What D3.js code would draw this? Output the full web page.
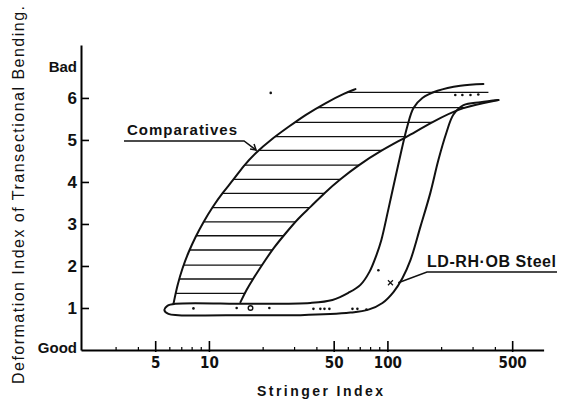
<!DOCTYPE html>
<html>
<head>
<meta charset="utf-8">
<script src="https://cdn.jsdelivr.net/npm/d3@7"></script>
<style>
  body { margin: 0; background: #fff; }
  svg { display: block; background: #fff; }
  text { fill: #111; font-family: "Liberation Sans", Arial, sans-serif; }
</style>
</head>
<body>
<svg width="561" height="399"></svg>
<script>
  // upper-left edge of the "Comparatives" band  [stringer index, deformation index]
  const compUpper = [[6.33,1.10],[6.66,1.55],[7.10,1.95],[7.68,2.33],[8.40,2.69],[9.32,3.05],
    [10.46,3.40],[11.90,3.74],[13.72,4.05],[15.61,4.38],[18.22,4.69],[22.11,5.00],[27.89,5.31],
    [34.72,5.60],[44.95,5.88],[58.18,6.12],[66.2,6.21]];
  // lower-right edge of the "Comparatives" band
  const compLower = [[15.02,1.14],[16.22,1.43],[17.53,1.67],[20.20,2.07],[22.98,2.43],[27.54,2.83],
    [31.72,3.14],[37.03,3.40],[44.38,3.74],[54.54,4.07],[68.80,4.40],[91.38,4.74],[127.8,5.07],
    [178.7,5.43],[263.1,5.79],[418.7,5.95]];
  // LD-RH-OB steel envelope, drawn as one stroke (left S-curve, round bottom, right S-curve)
  const steelBand = [[345,6.33],[256,6.29],[191,6.17],[157,6.00],[140,5.76],[129,5.31],[120,4.76],
    [111,4.12],[101,3.33],[92.5,2.62],[86.8,2.26],[79.3,1.86],[70.6,1.55],[60.4,1.36],[49.2,1.19],
    [37.0,1.12],[17.1,1.10],[6.49,1.10],[5.85,1.05],[5.63,0.95],[5.93,0.86],[6.75,0.83],[17.1,0.83],
    [32.6,0.83],[62.05,0.89],[78.3,0.96],[93.8,1.12],[108.1,1.38],[121.3,1.71],[134.6,2.14],
    [153,2.93],[174,3.74],[193,4.52],[214,5.17],[234,5.60],[267,5.83],[332,5.90],[419,5.95]];
  // hatching levels inside the comparatives band
  const hatchLevels = [6.13,5.77,5.42,5.08,4.75,4.40,4.06,3.73,3.39,3.05,2.72,2.38,2.02,1.69,1.35];

  // measured points
  const dotX = [8.19,14.3,21.8,38.5,42.1,44.4,47.3,63.7,67.9,76.3,89.0,22.2,240,263,292,323];
  const dotY = [0.99,1.00,1.00,0.98,0.98,0.98,0.98,0.98,0.98,0.96,1.90,6.12,6.07,6.07,6.07,6.08];
  const ringX = [17.1], ringY = [1.00];
  const crossPtX = [104], crossPtY = [1.60];

  const majorTicks = [5, 10, 50, 100, 500];
  const minorTicks = [3,4,6,7,8,9,20,30,40,60,70,80,90,200,300,400];
  const yTicks = [1,2,3,4,5,6];

  const svg = d3.select("svg");

  const x = d3.scaleLog().domain([1.92, 750]).range([81, 543.6]);
  const y = d3.scaleLinear().domain([0, 7.26]).range([350, 45]);

  // the two comparative edges are hand-smoothed in the original, so use a b-spline
  const smooth = d3.line()
    .x(d => x(d[0]))
    .y(d => y(d[1]))
    .curve(d3.curveBasis);
  const line = d3.line()
    .x(d => x(d[0]))
    .y(d => y(d[1]))
    .curve(d3.curveCatmullRom.alpha(0.5));

  // curves
  const gCurves = svg.append("g")
    .attr("fill", "none")
    .attr("stroke", "#111")
    .attr("stroke-width", 2)
    .attr("stroke-linecap", "round")
    .attr("stroke-linejoin", "round");

  const upperPath = gCurves.append("path").attr("d", smooth(compUpper));
  const lowerPath = gCurves.append("path").attr("d", smooth(compLower));
  gCurves.append("path").attr("d", line(steelBand));

  // find where a drawn path crosses a horizontal pixel line
  function crossX(node, py) {
    const total = node.getTotalLength();
    let prev = node.getPointAtLength(0);
    for (let s = 0.5; s <= total; s += 0.5) {
      const p = node.getPointAtLength(s);
      if ((prev.y - py) * (p.y - py) <= 0 && prev.y !== p.y) {
        return prev.x + (py - prev.y) / (p.y - prev.y) * (p.x - prev.x);
      }
      prev = p;
    }
    return null;
  }

  // hatching
  const lowerEnd = x(compLower[compLower.length - 1][0]) - 10;
  svg.append("g")
    .attr("stroke", "#111")
    .attr("stroke-width", 1.3)
    .selectAll("line")
    .data(hatchLevels)
    .join("line")
      .attr("x1", d => crossX(upperPath.node(), y(d)))
      .attr("x2", d => {
        const c = crossX(lowerPath.node(), y(d));
        return c === null ? lowerEnd : c;
      })
      .attr("y1", d => y(d))
      .attr("y2", d => y(d));

  // points
  svg.append("g").selectAll("circle")
    .data(d3.range(dotX.length))
    .join("circle")
      .attr("cx", i => x(dotX[i]))
      .attr("cy", i => y(dotY[i]))
      .attr("r", 1.3)
      .attr("fill", "#111");

  svg.append("g").selectAll("circle")
    .data(d3.range(ringX.length))
    .join("circle")
      .attr("cx", i => x(ringX[i]))
      .attr("cy", i => y(ringY[i]))
      .attr("r", 2.3)
      .attr("fill", "none")
      .attr("stroke", "#111")
      .attr("stroke-width", 1.4);

  svg.append("g").selectAll("path")
    .data(d3.range(crossPtX.length))
    .join("path")
      .attr("transform", i => `translate(${x(crossPtX[i])},${y(crossPtY[i])})`)
      .attr("d", d3.symbol(d3.symbolTimes, 18))
      .attr("fill", "none")
      .attr("stroke", "#111")
      .attr("stroke-width", 1.2);

  // x axis: major and minor ticks point inwards
  const xAxis = svg.append("g")
    .attr("transform", "translate(0,350)")
    .call(d3.axisBottom(x).tickValues(majorTicks).tickFormat(d3.format("d"))
      .tickSizeInner(-9).tickSizeOuter(0));
  xAxis.select(".domain").attr("stroke-width", 2);
  xAxis.selectAll(".tick line").attr("stroke-width", 1.6).attr("y2", -9).attr("y1", 2);
  xAxis.selectAll(".tick text")
    .attr("y", 18)
    .attr("dy", 0)
    .style("font-family", "'Liberation Sans Narrow', 'DejaVu Sans Condensed', 'Liberation Sans', sans-serif")
    .style("font-weight", "bold")
    .style("font-size", "15px");

  svg.append("g")
    .attr("transform", "translate(0,350)")
    .call(d3.axisBottom(x).tickValues(minorTicks).tickFormat("").tickSizeInner(-3).tickSizeOuter(0))
    .call(g => g.select(".domain").remove())
    .selectAll(".tick line").attr("stroke-width", 1.2);

  // y axis, ticks pointing inwards too
  const yAxis = svg.append("g")
    .attr("transform", "translate(81,0)")
    .call(d3.axisLeft(y).tickValues(yTicks).tickSizeInner(-8).tickSizeOuter(0).tickPadding(4));
  yAxis.select(".domain").attr("stroke-width", 2);
  yAxis.selectAll(".tick line").attr("stroke-width", 1.6);
  yAxis.selectAll(".tick text")
    .style("font-family", "'Liberation Sans', Arial, sans-serif")
    .style("font-weight", "bold")
    .style("font-size", "17px");

  svg.append("text")
    .attr("x", 77).attr("y", y(6.75)).attr("dy", "0.36em")
    .attr("text-anchor", "end")
    .style("font-weight", "bold").style("font-size", "15px")
    .text("Bad");
  svg.append("text")
    .attr("x", 77).attr("y", y(0.05)).attr("dy", "0.36em")
    .attr("text-anchor", "end")
    .style("font-weight", "bold").style("font-size", "15px")
    .text("Good");

  // axis titles
  svg.append("text")
    .attr("transform", "translate(24,384) rotate(-90)")
    .attr("textLength", 378)
    .attr("lengthAdjust", "spacing")
    .style("font-size", "16px")
    .text("Deformation Index of Transectional Bending.");

  svg.append("text")
    .attr("x", 257).attr("y", 396)
    .attr("textLength", 126)
    .attr("lengthAdjust", "spacing")
    .style("font-size", "14px")
    .style("font-weight", "bold")
    .text("Stringer Index");

  // annotations
  const ann = svg.append("g").attr("stroke", "#111").attr("fill", "none").attr("stroke-width", 1.5);

  const tipY = y(4.76);
  const compTip = [crossX(upperPath.node(), tipY) - 3, tipY];
  svg.append("text")
    .attr("x", 127).attr("y", 135)
    .attr("textLength", 110).attr("lengthAdjust", "spacing")
    .style("font-weight", "bold").style("font-size", "15px")
    .text("Comparatives");
  ann.append("path").attr("d", `M124,141H${compTip[0] - 12}L${compTip[0]},${compTip[1]}`);
  ann.append("path")
    .attr("d", `M${compTip[0] - 6},${compTip[1] - 1}L${compTip[0]},${compTip[1]}L${compTip[0] - 2},${compTip[1] - 6}`);

  const steelTip = [x(115), y(1.6)];
  svg.append("text")
    .attr("x", 427).attr("y", 267)
    .attr("textLength", 129).attr("lengthAdjust", "spacing")
    .style("font-weight", "bold").style("font-size", "16px")
    .text("LD-RH·OB Steel");
  ann.append("path").attr("d", `M${steelTip[0]},${steelTip[1]}L427,272H557`);
</script>
</body>
</html>
